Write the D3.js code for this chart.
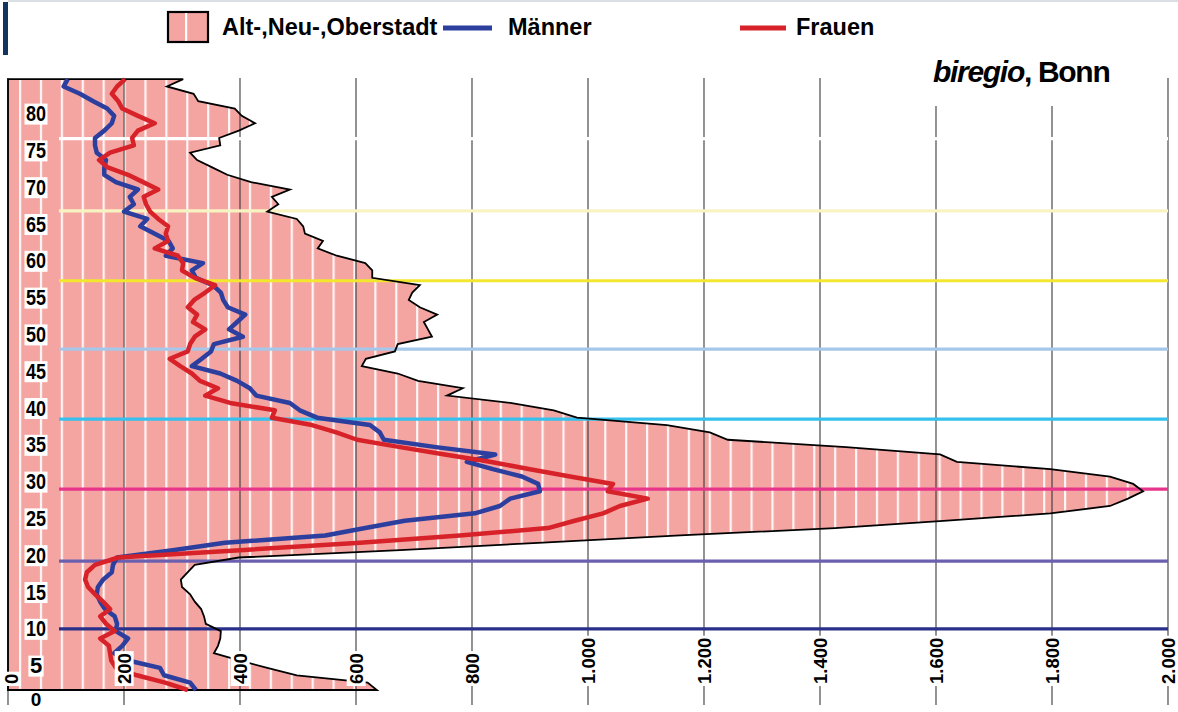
<!DOCTYPE html>
<html><head><meta charset="utf-8">
<script src="https://cdn.jsdelivr.net/npm/d3@7/dist/d3.min.js"></script>
<style>html,body{margin:0;padding:0;background:#fff;}svg{display:block;font-family:Arial,"Liberation Sans",Helvetica,sans-serif;}</style>
</head><body><svg id="c" width="1178" height="712"></svg>
<script>
// ---- data ----
const ages = [0,1,2,3,4,5,6,7,8,9,10,11,12,13,14,15,16,17,18,19,20,21,22,23,24,25,26,27,28,29,30,31,32,33,34,35,36,37,38,39,40,41,42,43,44,45,46,47,48,49,50,51,52,53,54,55,56,57,58,59,60,61,62,63,64,65,66,67,68,69,70,71,72,73,74,75,76,77,78,79,80,81,82,83];
const altNeuOberstadt = [636,620,498,447,400,355,362,366,367,341,338,333,322,314,300,298,310,322,398,676,914,1159,1426,1619,1797,1900,1931,1957,1940,1900,1797,1636,1607,1445,1241,1210,1136,981,941,866,757,784,707,672,610,617,667,672,731,724,717,740,710,691,697,710,628,628,616,567,534,543,512,509,498,447,466,455,486,419,378,352,326,314,366,364,398,426,403,391,328,320,274,302];
const maenner = [324,314,269,262,207,183,197,207,186,188,184,167,159,153,155,164,179,181,188,284,374,547,616,684,805,848,866,917,914,886,836,791,840,738,648,641,624,533,503,486,428,417,395,366,317,334,350,355,405,381,395,409,379,371,367,353,324,317,336,272,284,277,253,228,240,200,217,210,224,186,166,166,169,153,150,150,166,179,183,171,147,124,96,103];
const frauen = [310,271,222,186,178,176,174,159,184,169,159,176,164,150,138,133,136,150,190,400,607,779,931,977,1026,1055,1103,1034,1043,969,900,831,753,676,602,566,524,455,460,383,340,362,331,317,297,279,310,314,322,340,319,326,310,321,340,357,322,300,302,293,253,276,272,276,259,245,238,234,259,233,207,172,157,176,217,214,224,253,224,197,190,179,188,202];
const xTicks = [0,200,400,600,800,1000,1200,1400,1600,1800,2000];
const xTickLabels = ["0","200","400","600","800","1.000","1.200","1.400","1.600","1.800","2.000"];
const yTicks = [0,5,10,15,20,25,30,35,40,45,50,55,60,65,70,75,80];
const refAges = [8.3,17.5,27.3,36.8,46.3,55.6,65.1,74.9];
const refColors = ["#28308a","#6b5fb0","#e8358c","#35c0ee","#a6c7ea","#f2e72e","#f8f3c2","#ffffff"];
const legendLabels = ["Alt-,Neu-,Oberstadt","Männer","Frauen"];
const sourceText = ["biregio", ", Bonn"];

// ---- setup ----
const svg = d3.select("#c");
const x = d3.scaleLinear().domain([0,2000]).range([8,1168]);
const y = d3.scaleLinear().domain([0,83]).range([690,79.1]);
const PINK = "#f4a5a1", BLUE = "#2c3f9f", RED = "#d7222a";

const defs = svg.append("defs");
const pat = defs.append("pattern").attr("id","stripes").attr("patternUnits","userSpaceOnUse")
  .attr("x",19).attr("y",0).attr("width",20.9).attr("height",10);
pat.append("rect").attr("width",20.9).attr("height",10).attr("fill",PINK);
pat.append("rect").attr("x",0).attr("width",2.2).attr("height",10).attr("fill","#fff").attr("opacity",0.9);

// top decorations
svg.append("line").attr("x1",8).attr("x2",1178).attr("y1",1).attr("y2",1).attr("stroke","#cfd3da").attr("stroke-width",1.5);
svg.append("rect").attr("x",3).attr("y",2).attr("width",5).attr("height",53).attr("fill","#123460");

// area polygon
const areaPts = [[0,0]].concat(ages.map((a,i)=>[altNeuOberstadt[i],a])).concat([[0,ages[ages.length-1]]]);
const areaLine = d3.line().x(d=>x(d[0])).y(d=>y(d[1]));
svg.append("path").attr("d",areaLine(areaPts)+"Z").attr("fill","url(#stripes)");

// gridlines
svg.append("g").selectAll("line").data(xTicks).join("line")
  .attr("x1",d=>x(d)).attr("x2",d=>x(d)).attr("y1",y(83)-1).attr("y2",705)
  .attr("stroke","#333").attr("stroke-opacity",0.82).attr("stroke-width",1.3);

// reference lines
svg.append("g").selectAll("line").data(refAges).join("line")
  .attr("x1",59).attr("x2",x(2000)).attr("y1",d=>y(d)).attr("y2",d=>y(d))
  .attr("stroke",(d,i)=>refColors[i]).attr("stroke-width",3.2);

// area outline
svg.append("path").attr("d",areaLine(areaPts)+"Z").attr("fill","none").attr("stroke","#000").attr("stroke-width",1.8).attr("stroke-linejoin","miter");

// series lines
const serLine = d3.line().x(d=>x(d[0])).y(d=>y(d[1]));
svg.append("path").attr("d",serLine(ages.map((a,i)=>[maenner[i],a]))).attr("fill","none").attr("stroke",BLUE).attr("stroke-width",4.5).attr("stroke-linejoin","round");
svg.append("path").attr("d",serLine(ages.map((a,i)=>[frauen[i],a]))).attr("fill","none").attr("stroke",RED).attr("stroke-width",4.5).attr("stroke-linejoin","round");

// y labels
const yl = svg.append("g");
yTicks.forEach(t=>{
  const cy = t===0 ? 699 : y(t)+12;
  const g = yl.append("g").attr("transform",`translate(36,${cy})`);
  const r = g.append("rect").attr("fill","#fff");
  const tx = g.append("text").attr("text-anchor","middle").attr("dy","0.36em")
    .attr("font-size",t===0?19:22).attr("font-weight","bold").attr("fill","#000").text(t);
  if (String(t).length===2) tx.attr("textLength",20).attr("lengthAdjust","spacingAndGlyphs");
  const b = tx.node().getBBox();
  if (t!==0) r.attr("x",b.x-1.5).attr("y",b.y+2.5).attr("width",b.width+3).attr("height",b.height-4);
});

// x tick labels (rotated)
const xl = svg.append("g");
xTicks.forEach((t,i)=>{
  const cx = t===0 ? 11 : x(t);
  const g = xl.append("g").attr("transform",`translate(${cx},684) rotate(-90)`);
  const r = g.append("rect").attr("fill","#fff");
  const tx = g.append("text").attr("text-anchor","start").attr("dy","0.36em")
    .attr("font-size",18.5).attr("font-weight","bold").attr("fill","#000").text(xTickLabels[i]);
  const b = tx.node().getBBox();
  r.attr("x",b.x-2).attr("y",b.y+1).attr("width",b.width+4).attr("height",b.height-2);
});

// legend
const lg = svg.append("g");
lg.append("rect").attr("x",168).attr("y",12).attr("width",40).attr("height",30).attr("fill",PINK).attr("stroke","#000").attr("stroke-width",2.2);
lg.append("rect").attr("x",185).attr("y",13).attr("width",2.2).attr("height",28).attr("fill","#fff");
lg.append("text").attr("x",222).attr("y",35).attr("font-size",23.5).attr("font-weight","bold").attr("fill","#000").text(legendLabels[0]);
lg.append("line").attr("x1",443).attr("x2",492).attr("y1",28).attr("y2",28).attr("stroke",BLUE).attr("stroke-width",5);
lg.append("text").attr("x",508).attr("y",35).attr("font-size",23.5).attr("font-weight","bold").attr("fill","#000").text(legendLabels[1]);
lg.append("line").attr("x1",740).attr("x2",786).attr("y1",28).attr("y2",28).attr("stroke",RED).attr("stroke-width",5);
lg.append("text").attr("x",796).attr("y",35).attr("font-size",23.5).attr("font-weight","bold").attr("fill","#000").text(legendLabels[2]);

// source
svg.append("rect").attr("x",925).attr("y",50).attr("width",200).attr("height",56).attr("fill","#fff");
const st = svg.append("text").attr("x",933).attr("y",82).attr("font-size",30).attr("font-weight","bold").attr("letter-spacing",-1.3).attr("fill","#000");
st.append("tspan").attr("font-style","italic").text(sourceText[0]);
st.append("tspan").text(sourceText[1]);
</script></body></html>
